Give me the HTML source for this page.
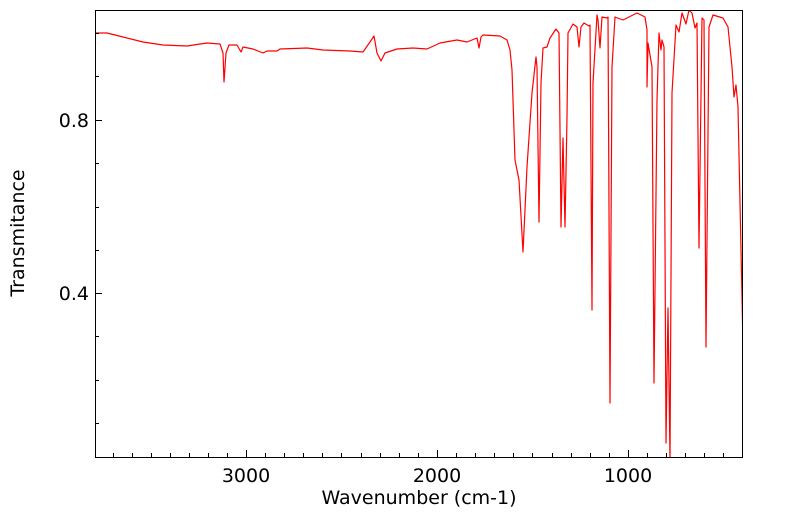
<!DOCTYPE html>
<html><head><meta charset="utf-8"><style>
html,body{margin:0;padding:0;background:#fff;}
svg{display:block;font-family:"DejaVu Sans","Liberation Sans",sans-serif;}
</style></head><body>
<svg width="799" height="516" viewBox="0 0 799 516" xmlns="http://www.w3.org/2000/svg">
<defs><clipPath id="c"><rect x="95" y="10" width="648" height="447"/></clipPath></defs>
<polyline clip-path="url(#c)" fill="none" stroke="#ff0000" stroke-width="1.2" stroke-linejoin="round" points="
96,33 107,33 123,37 143,42 163,45 187,46 207,43 220,44 223,53 224,82 226,53 229,45 237,45 241,52 243,47 253,49 263,53 267,51 277,51 280,49 307,48 323,50 350,51 363,52 370,42 374,36 377,53 381,61 385,53 397,49 413,48 427,49 440,43 457,40 467,42 477,38 479,48 481,37 483,35 500,36 507,40 510,50
512,70 515,160 519,180 523,252 527,167 532,93 536,57 537,67 539,222 541,83 543,48 547,47 550,38 556,29 559,33 561,227 563,138 565,227 567,117 568,33 573,24 577,27 579,47 581,27 584,23 589,26 590,25 592,310 593,83 597,15 598,20 600,48 602,17 607,18 608,17 610,403 612,67 615,17 623,20 637,13 645,17 647,30 647,87 648,43 652,67 654,383 657,100 659,33 661,50 662,40 664,47 666,443 668,308 670,460 672,93 676,25 679,32 682,13 686,24 689,10 692,13 695,28 697,23 699,248 702,18 704,20 706,347 709,27 713,15 723,18 728,27 732,67 734,97 736,85 738,107 743,345"/>
<rect x="95.5" y="10.5" width="647" height="447" fill="none" stroke="#000" stroke-width="1"/>
<g stroke="#000" stroke-width="1">
<line x1="246.5" y1="457" x2="246.5" y2="450"/>
<line x1="437.5" y1="457" x2="437.5" y2="450"/>
<line x1="628.5" y1="457" x2="628.5" y2="450"/>
<line x1="113.5" y1="457" x2="113.5" y2="453"/><line x1="132.5" y1="457" x2="132.5" y2="453"/><line x1="151.5" y1="457" x2="151.5" y2="453"/><line x1="170.5" y1="457" x2="170.5" y2="453"/><line x1="189.5" y1="457" x2="189.5" y2="453"/><line x1="208.5" y1="457" x2="208.5" y2="453"/><line x1="227.5" y1="457" x2="227.5" y2="453"/>
<line x1="265.5" y1="457" x2="265.5" y2="453"/><line x1="284.5" y1="457" x2="284.5" y2="453"/><line x1="303.5" y1="457" x2="303.5" y2="453"/><line x1="322.5" y1="457" x2="322.5" y2="453"/><line x1="341.5" y1="457" x2="341.5" y2="453"/><line x1="361.5" y1="457" x2="361.5" y2="453"/><line x1="380.5" y1="457" x2="380.5" y2="453"/><line x1="399.5" y1="457" x2="399.5" y2="453"/><line x1="418.5" y1="457" x2="418.5" y2="453"/>
<line x1="456.5" y1="457" x2="456.5" y2="453"/><line x1="475.5" y1="457" x2="475.5" y2="453"/><line x1="494.5" y1="457" x2="494.5" y2="453"/><line x1="513.5" y1="457" x2="513.5" y2="453"/><line x1="532.5" y1="457" x2="532.5" y2="453"/><line x1="552.5" y1="457" x2="552.5" y2="453"/><line x1="571.5" y1="457" x2="571.5" y2="453"/><line x1="590.5" y1="457" x2="590.5" y2="453"/><line x1="609.5" y1="457" x2="609.5" y2="453"/>
<line x1="647.5" y1="457" x2="647.5" y2="453"/><line x1="666.5" y1="457" x2="666.5" y2="453"/><line x1="685.5" y1="457" x2="685.5" y2="453"/><line x1="704.5" y1="457" x2="704.5" y2="453"/><line x1="723.5" y1="457" x2="723.5" y2="453"/>
<line x1="95" y1="120.5" x2="102" y2="120.5"/><line x1="95" y1="293.5" x2="102" y2="293.5"/>
<line x1="95" y1="33.5" x2="99" y2="33.5"/><line x1="95" y1="76.5" x2="99" y2="76.5"/><line x1="95" y1="163.5" x2="99" y2="163.5"/><line x1="95" y1="207.5" x2="99" y2="207.5"/><line x1="95" y1="250.5" x2="99" y2="250.5"/><line x1="95" y1="336.5" x2="99" y2="336.5"/><line x1="95" y1="380.5" x2="99" y2="380.5"/><line x1="95" y1="423.5" x2="99" y2="423.5"/>
</g>
<g font-size="19" fill="#000">
<text x="246" y="482" text-anchor="middle">3000</text>
<text x="437" y="482" text-anchor="middle">2000</text>
<text x="628" y="482" text-anchor="middle">1000</text>
<text x="89" y="127" text-anchor="end">0.8</text>
<text x="89" y="300" text-anchor="end">0.4</text>
<text x="419" y="504" text-anchor="middle">Wavenumber (cm-1)</text>
<text transform="translate(24,233) rotate(-90)" text-anchor="middle">Transmitance</text>
</g>
</svg>
</body></html>
